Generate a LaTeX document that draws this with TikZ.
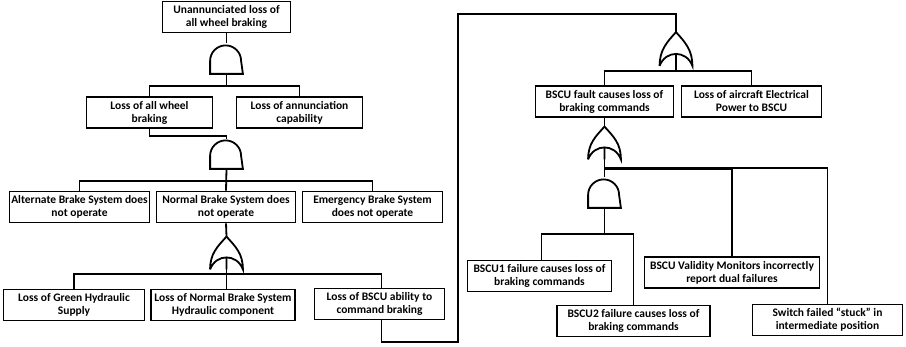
\documentclass[tikz,border=0pt]{standalone}
\usepackage{fontspec}
\setmainfont{Carlito}

\begin{document}
\begin{tikzpicture}[x=1pt, y=-1pt, line width=1.8pt,
	event/.style={draw, align=center, inner sep=0.5pt, minimum height=31pt, minimum width=#1,
		font=\bfseries\fontsize{11.5}{13}\selectfont},
	gatebox/.style={inner sep=0pt, minimum width=31pt, minimum height=#1}]
	\useasboundingbox (0,0) rectangle (906,347);

	% left tree
	\node [event=128pt] (top) at (226.5,17) {Unannunciated loss of\\all wheel braking};
	\node [gatebox=29pt] (and1) at (226.5,58.5) {};
	\node [event=126pt] (lawb) at (149.5,112.5) {Loss of all wheel\\braking};
	\node [event=126pt] (lac) at (299.5,112.5) {Loss of annunciation\\capability};
	\node [gatebox=28pt] (and2) at (226.5,154) {};
	\node [event=140pt] (alt) at (79.5,207) {Alternate Brake System does\\not operate};
	\node [event=139pt] (nbs) at (226,207) {Normal Brake System does\\not operate};
	\node [event=140pt] (ebs) at (372.5,207) {Emergency Brake System\\does not operate};
	\node [gatebox=31pt] (or1) at (226.5,253) {};
	\node [event=141pt] (ghyd) at (74,305) {Loss of Green Hydraulic\\Supply};
	\node [event=144pt] (nhyd) at (223,305) {Loss of Normal Brake System\\Hydraulic component};
	\node [event=130pt] (cmd) at (379.5,304) {Loss of BSCU ability to\\command braking};

	% right tree
	\coordinate (loop) at (458,14);
	\node [gatebox=32pt] (or2) at (676,49) {};
	\node [event=138pt] (bscu) at (604.5,101.5) {BSCU fault causes loss of\\braking commands};
	\node [event=140pt] (elec) at (751.5,101.5) {Loss of aircraft Electrical\\Power to BSCU};
	\node [gatebox=31pt] (or3) at (604.5,143) {};
	\node [gatebox=29pt] (and3) at (604.5,192.5) {};
	\node [event=144pt] (bscu1) at (539.5,276) {BSCU1 failure causes loss of\\braking commands};
	\node [event=153pt] (bscu2) at (633.5,321) {BSCU2 failure causes loss of\\braking commands};
	\node [event=175pt] (mon) at (732,272.5) {BSCU Validity Monitors incorrectly\\report dual failures};
	\node [event=150pt] (sw) at (827.5,320) {Switch failed ``stuck'' in\\intermediate position};

	% gate symbols
	\foreach \g in {and1,and2,and3}
		\draw (\g.south west) -- ++(0,-13) arc[start angle=180, end angle=0, radius=15.5pt] -- (\g.south east) -- cycle;
	\foreach \g in {or1,or2,or3}
		\draw (\g.south west) .. controls +(0,-16) and +(-9,10) .. (\g.north)
			.. controls +(9,10) and +(0,-16) .. (\g.south east)
			.. controls +(-6,-16) and +(6,-16) .. (\g.south west)
			(\g.south) -- ++(0,-12);

	% connectors
	\draw (top) -- (and1);
	\draw (and1.south) -- ++(0,12) -| (lawb.north);
	\draw (and1.south) -- ++(0,12) -| (lac.north);
	\draw (lawb.south) -- ++(0,7) -| (and2.north);
	\draw (and2.south) -- ++(0,12) -| (alt.north);
	\draw (and2.south) -- ++(0,12) -| (ebs.north);
	\draw (and2.south) -- (nbs.north);
	\draw (nbs.south) -- (or1.north);
	\draw (or1.south) -- ++(0,5) -| (ghyd.north);
	\draw (or1.south) -- ++(0,5) -| ([xshift=2pt]cmd.north);
	\draw (or1.south) -- (or1.south |- nhyd.north);
	\draw ([xshift=2pt]cmd.south) -- ++(0,22) -| (loop) -| (or2.north);
	\draw (or2.south) -- ++(0,5) -| (bscu.north);
	\draw (or2.south) -- ++(0,5) -| (elec.north);
	\draw (bscu.south) -- (or3.north);
	\draw (or3.south) -- (and3.north);
	\draw (or3.south) -- ++(0,9) -| (mon.north);
	\draw (or3.south) -- ++(0,9) -| (sw.north);
	\draw [line width=2.8pt] ([yshift=-9pt]or3.south) -- ([yshift=-9pt]or3.south -| mon.north);
	\draw (and3.south) -- ++(0,26) -| ([xshift=2pt]bscu1.north);
	\draw (and3.south) -- ++(0,26) -| (bscu2.north);
\end{tikzpicture}
\end{document}
